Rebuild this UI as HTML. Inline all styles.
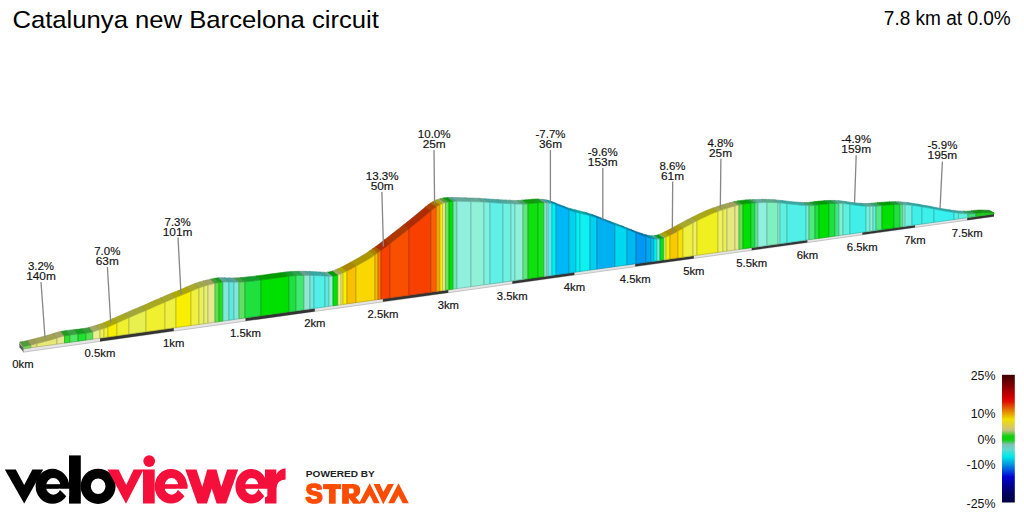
<!DOCTYPE html>
<html><head><meta charset="utf-8"><style>
html,body{margin:0;padding:0;background:#fff;}
body{width:1024px;height:512px;overflow:hidden;position:relative;font-family:"Liberation Sans",sans-serif;}
svg{position:absolute;left:0;top:0;}
.km{font-family:"Liberation Sans",sans-serif;font-size:10.3px;fill:#111;stroke:#111;stroke-width:0.15px;}
.ann{font-family:"Liberation Sans",sans-serif;font-size:11.2px;fill:#111;stroke:#111;stroke-width:0.15px;}
.lg{font-family:"Liberation Sans",sans-serif;font-size:12.4px;fill:#111;}
</style></head><body>
<svg width="1024" height="512" viewBox="0 0 1024 512">
<defs>
<linearGradient id="lgd" x1="0" y1="0" x2="0" y2="1">
<stop offset="0" stop-color="#3a0000"/>
<stop offset="0.1" stop-color="#900000"/>
<stop offset="0.177" stop-color="#d00000"/>
<stop offset="0.21" stop-color="#e01000"/>
<stop offset="0.26" stop-color="#e06000"/>
<stop offset="0.305" stop-color="#e8a000"/>
<stop offset="0.347" stop-color="#f0e000"/>
<stop offset="0.39" stop-color="#e0d040"/>
<stop offset="0.435" stop-color="#c8c080"/>
<stop offset="0.48" stop-color="#10d010"/>
<stop offset="0.51" stop-color="#10d010"/>
<stop offset="0.545" stop-color="#80c0b0"/>
<stop offset="0.585" stop-color="#60d8d0"/>
<stop offset="0.64" stop-color="#00e8e8"/>
<stop offset="0.695" stop-color="#00a0e0"/>
<stop offset="0.76" stop-color="#0040e0"/>
<stop offset="0.8" stop-color="#0000d0"/>
<stop offset="0.87" stop-color="#000090"/>
<stop offset="0.93" stop-color="#000060"/>
<stop offset="1.0" stop-color="#000040"/>
</linearGradient>
</defs>
<text x="12.4" y="27.6" font-family="Liberation Sans" font-size="24.8" fill="#000" textLength="366.5" lengthAdjust="spacingAndGlyphs">Catalunya new Barcelona circuit</text>
<text x="1010.8" y="25" text-anchor="end" font-family="Liberation Sans" font-size="19.4" fill="#000" textLength="127" lengthAdjust="spacingAndGlyphs">7.8 km at 0.0%</text>
<polygon points="23,348.8 994,214 994,216.4 23,352.2" fill="#e4e4e4"/>
<line x1="23" y1="352.2" x2="994" y2="216.4" stroke="#b8b8b8" stroke-width="0.8"/>
<polygon points="100,338.11 173.75,327.87 173.75,331.12 100,341.43" fill="#333"/>
<polygon points="245.5,317.91 314.8,308.29 314.8,311.39 245.5,321.08" fill="#333"/>
<polygon points="382.9,298.84 448.3,289.76 448.3,292.72 382.9,301.87" fill="#333"/>
<polygon points="512.3,280.87 574.4,272.25 574.4,275.08 512.3,283.77" fill="#333"/>
<polygon points="635.2,263.81 693.8,255.68 693.8,258.38 635.2,266.58" fill="#333"/>
<polygon points="751.7,247.64 807.4,239.9 807.4,242.5 751.7,250.29" fill="#333"/>
<polygon points="862.3,232.28 915,224.97 915,227.45 862.3,234.82" fill="#333"/>
<polygon points="967.2,217.72 994,214 994,216.4 967.2,220.15" fill="#333"/>
<polygon points="19.2,342.9 23.3,347.6 23.6,352.2 19.5,347.3" fill="#5a5a5a"/>
<polygon points="23,346.64 25,346.4 27,346 29,345.59 31,345.12 27.57,340.54 25.57,341 23.58,341.41 21.59,341.8 19.6,342.04" fill="#54973d" stroke="#4a8536" stroke-width="0.6"/>
<polygon points="31,345.12 33,344.63 35,344.12 37,343.59 33.54,339.02 31.55,339.54 29.56,340.05 27.57,340.54" fill="#9c9c59" stroke="#8a8a4f" stroke-width="0.6"/>
<polygon points="37,343.59 39,343.06 41,342.53 43,342 45,341.47 47,340.95 49,340.43 51,339.88 53,339.3 55,338.69 57,338.04 53.46,333.51 51.46,334.16 49.47,334.76 47.48,335.34 45.49,335.88 43.5,336.4 41.51,336.92 39.51,337.44 37.52,337.97 35.53,338.49 33.54,339.02" fill="#a2a254" stroke="#8f8f4a" stroke-width="0.6"/>
<polygon points="57,338.04 59,337.39 61,336.8 63,336.31 64.5,336.01 60.92,331.5 59.43,331.79 57.44,332.28 55.45,332.87 53.46,333.51" fill="#a2a264" stroke="#8f8f59" stroke-width="0.6"/>
<polygon points="64.5,336.01 65,335.91 67,335.55 69,335.22 70,335.07 66.4,330.57 65.4,330.72 63.41,331.04 61.42,331.4 60.92,331.5" fill="#219c21" stroke="#1d8a1d" stroke-width="0.6"/>
<polygon points="70,335.07 71,334.92 73,334.67 75,334.44 77,334.23 78,334.14 74.35,329.65 73.36,329.75 71.37,329.95 69.38,330.17 67.39,330.42 66.4,330.57" fill="#38a243" stroke="#318f3b" stroke-width="0.6"/>
<polygon points="78,334.14 79,334.04 81,333.83 83,333.58 85,333.29 86,333.15 82.3,328.68 81.31,328.82 79.32,329.1 77.33,329.35 75.35,329.55 74.35,329.65" fill="#169c21" stroke="#138a1d" stroke-width="0.6"/>
<polygon points="86,333.15 87,333.01 89,332.71 91,332.34 93,331.83 89.26,327.37 87.27,327.88 85.29,328.25 83.3,328.54 82.3,328.68" fill="#389c38" stroke="#318a31" stroke-width="0.6"/>
<polygon points="93,331.83 95,331.22 97,330.6 99,329.98 100,329.66 96.22,325.22 95.23,325.53 93.24,326.15 91.25,326.77 89.26,327.37" fill="#a2a864" stroke="#8f9459" stroke-width="0.6"/>
<polygon points="100,329.66 101,329.35 103,328.76 104,328.44 100.2,324 99.2,324.32 97.21,324.91 96.22,325.22" fill="#a8a838" stroke="#949431" stroke-width="0.6"/>
<polygon points="104,328.44 105,328.12 107,327.42 108,327.01 104.17,322.58 103.18,322.99 101.19,323.68 100.2,324" fill="#a8a82c" stroke="#949427" stroke-width="0.6"/>
<polygon points="108,327.01 109,326.6 111,325.74 113,324.83 115,323.91 117,322.99 113.12,318.58 111.13,319.49 109.14,320.41 107.16,321.31 105.17,322.17 104.17,322.58" fill="#ada800" stroke="#999400" stroke-width="0.6"/>
<polygon points="117,322.99 119,322.1 121,321.21 123,320.32 125,319.44 127,318.55 129,317.67 125.05,313.28 123.06,314.16 121.07,315.03 119.08,315.91 117.1,316.8 115.11,317.69 113.12,318.58" fill="#a8a821" stroke="#94941d" stroke-width="0.6"/>
<polygon points="129,317.67 131,316.8 133,315.91 135,315.03 137,314.18 139,313.34 141,312.52 143,311.71 145,310.9 146,310.48 141.95,306.12 140.95,306.54 138.96,307.35 136.98,308.14 134.99,308.96 133,309.8 131.01,310.65 129.02,311.52 127.04,312.41 125.05,313.28" fill="#a2a838" stroke="#8f9431" stroke-width="0.6"/>
<polygon points="146,310.48 147,310.06 149,309.18 151,308.29 153,307.36 155,306.44 157,305.55 159,304.7 161,303.85 163,303 165,302.13 160.83,297.8 158.84,298.66 156.86,299.51 154.87,300.36 152.88,301.2 150.89,302.1 148.9,303.01 146.92,303.93 144.93,304.82 142.94,305.7 141.95,306.12" fill="#a8a821" stroke="#94941d" stroke-width="0.6"/>
<polygon points="165,302.13 167,301.26 169,300.39 171,299.53 173,298.69 175,297.87 176,297.47 171.77,293.16 170.77,293.56 168.79,294.37 166.8,295.21 164.81,296.07 162.82,296.94 160.83,297.8" fill="#a8a82c" stroke="#949427" stroke-width="0.6"/>
<polygon points="176,297.47 177,297.07 179,296.28 181,295.48 183,294.66 185,293.81 187,292.96 189,292.09 191,291.23 186.68,286.95 184.69,287.8 182.7,288.66 180.71,289.52 178.73,290.36 176.74,291.18 174.75,291.98 172.76,292.77 171.77,293.16" fill="#ada800" stroke="#999400" stroke-width="0.6"/>
<polygon points="191,291.23 193,290.4 195,289.59 197,288.78 199,287.98 194.63,283.71 192.64,284.51 190.65,285.31 188.67,286.12 186.68,286.95" fill="#a8a82c" stroke="#949427" stroke-width="0.6"/>
<polygon points="199,287.98 201,287.23 203,286.55 204,286.26 199.6,282 198.61,282.29 196.62,282.96 194.63,283.71" fill="#a2a843" stroke="#8f943b" stroke-width="0.6"/>
<polygon points="204,286.26 205,285.96 207,285.39 208,285.12 203.58,280.87 202.58,281.14 200.59,281.7 199.6,282" fill="#a2a84e" stroke="#8f9445" stroke-width="0.6"/>
<polygon points="208,285.12 209,284.86 211,284.35 213,283.88 215,283.46 210.53,279.22 208.55,279.64 206.56,280.1 204.57,280.61 203.58,280.87" fill="#a2a264" stroke="#8f8f59" stroke-width="0.6"/>
<polygon points="215,283.46 217,283.02 219,282.61 214.51,278.38 212.52,278.79 210.53,279.22" fill="#439c38" stroke="#3b8a31" stroke-width="0.6"/>
<polygon points="219,282.61 221,282.27 223,282.07 218.49,277.85 216.5,278.04 214.51,278.38" fill="#169c16" stroke="#138a13" stroke-width="0.6"/>
<polygon points="223,282.07 225,281.99 227,281.99 229,282.03 224.45,277.82 222.46,277.77 220.47,277.77 218.49,277.85" fill="#59a297" stroke="#4f8f85" stroke-width="0.6"/>
<polygon points="229,282.03 231,282.09 233,282.12 234,282.13 229.42,277.92 228.43,277.91 226.44,277.88 224.45,277.82" fill="#43a29c" stroke="#3b8f8a" stroke-width="0.6"/>
<polygon points="234,282.13 235,282.13 237,282.14 239,282.14 234.39,277.94 232.4,277.94 230.41,277.93 229.42,277.92" fill="#59a297" stroke="#4f8f85" stroke-width="0.6"/>
<polygon points="239,282.14 241,282.1 243,282 245,281.85 240.36,277.67 238.37,277.81 236.38,277.9 234.39,277.94" fill="#439c43" stroke="#3b8a3b" stroke-width="0.6"/>
<polygon points="245,281.85 247,281.68 249,281.48 251,281.26 253,281.04 255,280.81 257,280.58 259,280.34 261,280.1 256.26,275.94 254.27,276.18 252.28,276.41 250.3,276.64 248.31,276.87 246.32,277.09 244.33,277.3 242.34,277.49 240.36,277.67" fill="#169c2c" stroke="#138a27" stroke-width="0.6"/>
<polygon points="261,280.1 263,279.85 265,279.58 267,279.31 269,279.04 271,278.77 273,278.5 275,278.23 277,277.96 279,277.7 281,277.43 283,277.16 285,276.89 287,276.61 289,276.32 284.09,272.22 282.1,272.5 280.12,272.78 278.13,273.04 276.14,273.31 274.15,273.57 272.16,273.83 270.18,274.09 268.19,274.36 266.2,274.63 264.21,274.9 262.22,275.17 260.24,275.43 258.25,275.69 256.26,275.94" fill="#009c00" stroke="#008a00" stroke-width="0.6"/>
<polygon points="289,276.32 291,276.07 293,275.87 295,275.73 296,275.67 291.05,271.58 290.06,271.63 288.07,271.77 286.08,271.96 284.09,272.22" fill="#169c2c" stroke="#138a27" stroke-width="0.6"/>
<polygon points="296,275.67 297,275.61 299,275.52 301,275.45 303,275.41 304,275.41 299,271.33 298.01,271.33 296.02,271.37 294.03,271.43 292.04,271.52 291.05,271.58" fill="#2ca24e" stroke="#278f45" stroke-width="0.6"/>
<polygon points="304,275.41 305,275.4 307,275.4 309,275.41 310,275.43 304.97,271.36 303.97,271.34 301.99,271.33 300,271.32 299,271.33" fill="#64a291" stroke="#598f80" stroke-width="0.6"/>
<polygon points="310,275.43 311,275.44 313,275.49 314,275.53 308.94,271.46 307.95,271.43 305.96,271.37 304.97,271.36" fill="#4ea29c" stroke="#458f8a" stroke-width="0.6"/>
<polygon points="314,275.53 315,275.57 317,275.65 319,275.74 321,275.85 323,275.95 325,276.05 319.88,272 317.89,271.91 315.9,271.8 313.91,271.69 311.93,271.59 309.94,271.5 308.94,271.46" fill="#38a8a2" stroke="#31948f" stroke-width="0.6"/>
<polygon points="325,276.05 327,276.18 329,276.31 323.85,272.27 321.87,272.14 319.88,272" fill="#43a29c" stroke="#3b8f8a" stroke-width="0.6"/>
<polygon points="329,276.31 331,276.33 333,276.19 327.83,272.17 325.84,272.3 323.85,272.27" fill="#64a89c" stroke="#59948a" stroke-width="0.6"/>
<polygon points="333,276.19 335,275.84 337,275.32 338,274.96 332.8,270.94 331.81,271.3 329.82,271.81 327.83,272.17" fill="#009c00" stroke="#008a00" stroke-width="0.6"/>
<polygon points="338,274.96 339,274.6 341,273.79 335.78,269.77 333.79,270.58 332.8,270.94" fill="#a8a864" stroke="#949459" stroke-width="0.6"/>
<polygon points="341,273.79 343,272.91 337.77,268.9 335.78,269.77" fill="#a8a843" stroke="#94943b" stroke-width="0.6"/>
<polygon points="343,272.91 345,271.98 347,271 341.75,267 339.76,267.97 337.77,268.9" fill="#ada800" stroke="#999400" stroke-width="0.6"/>
<polygon points="347,271 349,269.98 351,268.93 353,267.84 355,266.73 356,266.18 350.69,262.19 349.7,262.74 347.71,263.84 345.72,264.93 343.73,265.98 341.75,267" fill="#ad8600" stroke="#997700" stroke-width="0.6"/>
<polygon points="356,266.18 357,265.63 359,264.54 361,263.44 363,262.32 365,261.16 367,259.99 369,258.81 371,257.59 373,256.24 375,254.83 369.58,250.87 367.59,252.28 365.6,253.63 363.61,254.85 361.63,256.03 359.64,257.19 357.65,258.34 355.66,259.46 353.67,260.56 351.69,261.64 350.69,262.19" fill="#ad9700" stroke="#998500" stroke-width="0.6"/>
<polygon points="375,254.83 377,253.41 378,252.71 372.56,248.76 371.57,249.46 369.58,250.87" fill="#ad8000" stroke="#997200" stroke-width="0.6"/>
<polygon points="378,252.71 379,252.02 381,250.61 375.54,246.67 373.56,248.07 372.56,248.76" fill="#ad5900" stroke="#994f00" stroke-width="0.6"/>
<polygon points="381,250.61 383,249.16 385,247.65 387,246.11 389,244.55 390,243.76 384.49,239.84 383.5,240.62 381.51,242.18 379.52,243.71 377.53,245.22 375.54,246.67" fill="#ad2c00" stroke="#992700" stroke-width="0.6"/>
<polygon points="390,243.76 391,242.98 393,241.41 395,239.84 397,238.28 399,236.73 401,235.17 403,233.61 405,232.04 407,230.47 409,228.89 403.41,225 401.4,226.57 399.4,228.14 397.41,229.71 395.42,231.26 393.44,232.82 391.45,234.37 389.46,235.92 387.47,237.48 385.48,239.05 384.49,239.84" fill="#ad3800" stroke="#993100" stroke-width="0.6"/>
<polygon points="409,228.89 411,227.3 413,225.7 415,224.08 417,222.45 419,220.81 421,219.15 423,217.49 425,215.85 427,214.19 429,212.52 431,210.82 425.43,206.97 423.43,208.67 421.43,210.33 419.43,211.99 417.42,213.63 415.42,215.28 413.42,216.94 411.42,218.58 409.41,220.2 407.41,221.82 405.41,223.41 403.41,225" fill="#ad2c00" stroke="#992700" stroke-width="0.6"/>
<polygon points="431,210.82 433,209.17 435,207.66 436.4,206.72 430.84,202.88 429.44,203.82 427.44,205.32 425.43,206.97" fill="#ad4300" stroke="#993b00" stroke-width="0.6"/>
<polygon points="436.4,206.72 437,206.31 439,205.15 440,204.66 434.45,200.83 433.44,201.32 431.44,202.47 430.84,202.88" fill="#ad7000" stroke="#996300" stroke-width="0.6"/>
<polygon points="440,204.66 441,204.16 442.7,203.5 437.15,199.67 435.45,200.33 434.45,200.83" fill="#ada800" stroke="#999400" stroke-width="0.6"/>
<polygon points="442.7,203.5 443,203.38 445,202.73 445.4,202.63 439.85,198.8 439.45,198.91 437.45,199.56 437.15,199.67" fill="#a8a859" stroke="#94944f" stroke-width="0.6"/>
<polygon points="445.4,202.63 447,202.21 449,201.8 443.46,197.98 441.45,198.39 439.85,198.8" fill="#4e9c43" stroke="#458a3b" stroke-width="0.6"/>
<polygon points="449,201.8 451,201.55 453,201.39 453.2,201.38 447.66,197.58 447.46,197.58 445.46,197.74 443.46,197.98" fill="#009c00" stroke="#008a00" stroke-width="0.6"/>
<polygon points="453.2,201.38 455,201.32 457,201.29 451.47,197.49 449.46,197.51 447.66,197.58" fill="#4ea27b" stroke="#458f6d" stroke-width="0.6"/>
<polygon points="457,201.29 459,201.3 461,201.33 463,201.38 465,201.43 467,201.49 469,201.55 471,201.62 465.49,197.85 463.48,197.78 461.48,197.71 459.48,197.64 457.47,197.59 455.47,197.54 453.47,197.51 451.47,197.49" fill="#64a89c" stroke="#59948a" stroke-width="0.6"/>
<polygon points="471,201.62 473,201.69 475,201.75 477,201.81 479,201.86 481,201.93 483,202.02 484,202.07 478.5,198.33 477.5,198.27 475.5,198.18 473.5,198.11 471.49,198.05 469.49,197.99 467.49,197.92 465.49,197.85" fill="#64a897" stroke="#599485" stroke-width="0.6"/>
<polygon points="484,202.07 485,202.13 487,202.25 489,202.39 490,202.46 484.51,198.72 483.51,198.65 481.51,198.51 479.5,198.38 478.5,198.33" fill="#59a89c" stroke="#4f948a" stroke-width="0.6"/>
<polygon points="490,202.46 491,202.52 493,202.66 495,202.8 497,202.94 499,203.08 501,203.21 503,203.33 497.53,199.62 495.52,199.49 493.52,199.36 491.52,199.21 489.52,199.07 487.51,198.93 485.51,198.79 484.51,198.72" fill="#43a8a2" stroke="#3b948f" stroke-width="0.6"/>
<polygon points="503,203.33 505,203.44 507,203.56 509,203.66 511,203.77 505.54,200.07 503.53,199.96 501.53,199.85 499.53,199.74 497.53,199.62" fill="#4ea89c" stroke="#45948a" stroke-width="0.6"/>
<polygon points="511,203.77 513,203.86 515,203.94 509.54,200.25 507.54,200.17 505.54,200.07" fill="#59a89c" stroke="#4f948a" stroke-width="0.6"/>
<polygon points="515,203.94 517,204.03 519,204.12 521,204.18 523,204.15 517.55,200.48 515.55,200.5 513.55,200.44 511.54,200.35 509.54,200.25" fill="#64a897" stroke="#599485" stroke-width="0.6"/>
<polygon points="523,204.15 525,204.05 527,203.89 528,203.8 522.56,200.14 521.56,200.23 519.55,200.38 517.55,200.48" fill="#43a259" stroke="#3b8f4f" stroke-width="0.6"/>
<polygon points="528,203.8 529,203.71 531,203.51 533,203.32 535,203.17 537,202.99 538,202.91 532.57,199.27 531.57,199.35 529.57,199.52 527.57,199.67 525.56,199.85 523.56,200.05 522.56,200.14" fill="#0b9c0b" stroke="#098a09" stroke-width="0.6"/>
<polygon points="538,202.91 539,202.83 541,202.7 543,202.7 544,202.75 538.58,199.12 537.58,199.07 535.58,199.07 533.57,199.18 532.57,199.27" fill="#109f10" stroke="#0e8d0e" stroke-width="0.6"/>
<polygon points="544,202.75 545,202.81 546.5,202.92 541.08,199.3 539.58,199.18 538.58,199.12" fill="#59a286" stroke="#4f8f77" stroke-width="0.6"/>
<polygon points="546.5,202.92 547,202.96 548,203.06 542.58,199.44 541.58,199.33 541.08,199.3" fill="#70a8a2" stroke="#63948f" stroke-width="0.6"/>
<polygon points="548,203.06 549,203.16 551,203.45 552,203.67 546.59,200.05 545.59,199.83 543.59,199.54 542.58,199.44" fill="#43a2a2" stroke="#3b8f8f" stroke-width="0.6"/>
<polygon points="552,203.67 553,203.89 555,204.48 556,204.82 550.59,201.21 549.59,200.87 547.59,200.28 546.59,200.05" fill="#00a8a8" stroke="#009494" stroke-width="0.6"/>
<polygon points="556,204.82 557,205.15 559,205.9 561,206.69 563,207.48 565,208.27 567,209.08 569,209.9 563.61,206.32 561.61,205.5 559.61,204.68 557.6,203.89 555.6,203.09 553.6,202.3 551.6,201.55 550.59,201.21" fill="#0080ad" stroke="#007299" stroke-width="0.6"/>
<polygon points="569,209.9 571,210.68 573,211.36 575,211.96 576,212.24 570.62,208.67 569.62,208.39 567.62,207.79 565.61,207.1 563.61,206.32" fill="#0091a8" stroke="#008094" stroke-width="0.6"/>
<polygon points="576,212.24 577,212.51 579,213.01 580,213.25 574.63,209.69 573.62,209.45 571.62,208.94 570.62,208.67" fill="#00a8ad" stroke="#009499" stroke-width="0.6"/>
<polygon points="580,213.25 581,213.5 583,213.99 585,214.5 587,215.01 589,215.51 590,215.78 584.64,212.23 583.64,211.97 581.63,211.46 579.63,210.95 577.63,210.44 575.63,209.94 574.63,209.69" fill="#0ba8a8" stroke="#099494" stroke-width="0.6"/>
<polygon points="590,215.78 591,216.04 593,216.62 595,217.26 597,217.92 591.65,214.39 589.65,213.73 587.64,213.09 585.64,212.5 584.64,212.23" fill="#0091a8" stroke="#008094" stroke-width="0.6"/>
<polygon points="597,217.92 599,218.6 601,219.32 603,220.07 605,220.85 607,221.65 609,222.48 611,223.29 613,224.08 615,224.84 609.67,221.35 607.67,220.59 605.67,219.79 603.66,218.97 601.66,218.14 599.66,217.33 597.66,216.55 595.65,215.8 593.65,215.08 591.65,214.39" fill="#007ba8" stroke="#006d94" stroke-width="0.6"/>
<polygon points="615,224.84 617,225.58 619,226.3 621,227.03 623,227.78 625,228.56 627,229.34 621.69,225.87 619.68,225.08 617.68,224.31 615.68,223.55 613.68,222.82 611.67,222.09 609.67,221.35" fill="#0097a8" stroke="#008594" stroke-width="0.6"/>
<polygon points="627,229.34 629,230.14 631,230.94 633,231.73 635,232.52 636,232.91 630.7,229.46 629.7,229.06 627.69,228.27 625.69,227.48 623.69,226.67 621.69,225.87" fill="#0080a8" stroke="#007294" stroke-width="0.6"/>
<polygon points="636,232.91 637,233.3 639,234.09 641,234.86 643,235.58 645,236.27 646,236.61 640.71,233.18 639.71,232.83 637.71,232.15 635.7,231.42 633.7,230.64 631.7,229.85 630.7,229.46" fill="#006aa8" stroke="#005e94" stroke-width="0.6"/>
<polygon points="646,236.61 647,236.96 649,237.61 651,238.19 645.72,234.77 643.71,234.18 641.71,233.53 640.71,233.18" fill="#0075a8" stroke="#006894" stroke-width="0.6"/>
<polygon points="651,238.19 653,238.71 654,238.88 648.72,235.46 647.72,235.29 645.72,234.77" fill="#0086a8" stroke="#007794" stroke-width="0.6"/>
<polygon points="654,238.88 655,239.04 657,239.23 651.73,235.82 649.72,235.63 648.72,235.46" fill="#00a8a8" stroke="#009494" stroke-width="0.6"/>
<polygon points="657,239.23 659,239.12 660,238.98 654.73,235.57 653.73,235.71 651.73,235.82" fill="#4ea89c" stroke="#45948a" stroke-width="0.6"/>
<polygon points="660,238.98 661,238.83 663,238.29 664,237.92 658.73,234.52 657.73,234.89 655.73,235.43 654.73,235.57" fill="#009c16" stroke="#008a13" stroke-width="0.6"/>
<polygon points="664,237.92 665,237.55 666,237.12 660.74,233.73 659.74,234.16 658.73,234.52" fill="#a2a859" stroke="#8f944f" stroke-width="0.6"/>
<polygon points="666,237.12 667,236.69 669,235.74 670,235.23 664.74,231.84 663.74,232.35 661.74,233.3 660.74,233.73" fill="#a8a800" stroke="#949400" stroke-width="0.6"/>
<polygon points="670,235.23 671,234.73 673,233.68 675,232.63 677,231.55 678,231.01 672.75,227.64 671.75,228.18 669.75,229.25 667.75,230.3 665.74,231.34 664.74,231.84" fill="#ad8c00" stroke="#997c00" stroke-width="0.6"/>
<polygon points="678,231.01 679,230.47 681,229.38 683,228.29 677.76,224.93 675.76,226.01 673.75,227.1 672.75,227.64" fill="#ad9c00" stroke="#998a00" stroke-width="0.6"/>
<polygon points="683,228.29 685,227.21 687,226.12 689,225.03 691,223.95 693,222.9 687.77,219.56 685.77,220.61 683.77,221.68 681.76,222.76 679.76,223.85 677.76,224.93" fill="#a8a82c" stroke="#949427" stroke-width="0.6"/>
<polygon points="693,222.9 695,221.87 697,220.85 691.78,217.52 689.77,218.53 687.77,219.56" fill="#a8a843" stroke="#94943b" stroke-width="0.6"/>
<polygon points="697,220.85 699,219.84 701,218.85 703,217.87 705,216.91 707,215.94 709,214.99 711,214.07 713,213.23 715,212.45 717,211.72 718,211.37 712.8,208.07 711.8,208.42 709.8,209.15 707.8,209.92 705.79,210.76 703.79,211.67 701.79,212.63 699.79,213.59 697.78,214.54 695.78,215.52 693.78,216.51 691.78,217.52" fill="#a8a816" stroke="#949413" stroke-width="0.6"/>
<polygon points="718,211.37 719,211.01 721,210.33 723,209.67 717.81,206.39 715.81,207.05 713.81,207.72 712.8,208.07" fill="#a8a843" stroke="#94943b" stroke-width="0.6"/>
<polygon points="723,209.67 725,209.01 727,208.36 721.82,205.09 719.81,205.74 717.81,206.39" fill="#a2a843" stroke="#8f943b" stroke-width="0.6"/>
<polygon points="727,208.36 729,207.72 731,207.1 733,206.53 735,206 729.83,202.75 727.83,203.27 725.82,203.84 723.82,204.46 721.82,205.09" fill="#a2a259" stroke="#8f8f4f" stroke-width="0.6"/>
<polygon points="735,206 737,205.47 739,204.97 733.83,201.73 731.83,202.23 729.83,202.75" fill="#a2a264" stroke="#8f8f59" stroke-width="0.6"/>
<polygon points="739,204.97 741,204.52 743,204.15 737.84,200.92 735.84,201.28 733.83,201.73" fill="#439c38" stroke="#3b8a31" stroke-width="0.6"/>
<polygon points="743,204.15 745,203.86 747,203.61 749,203.4 751,203.22 745.85,200.01 743.85,200.19 741.85,200.39 739.84,200.64 737.84,200.92" fill="#009c00" stroke="#008a00" stroke-width="0.6"/>
<polygon points="751,203.22 753,203.07 755,202.95 749.86,199.75 747.85,199.87 745.85,200.01" fill="#169c2c" stroke="#138a27" stroke-width="0.6"/>
<polygon points="755,202.95 757,202.84 758,202.79 752.86,199.6 751.86,199.65 749.86,199.75" fill="#43a264" stroke="#3b8f59" stroke-width="0.6"/>
<polygon points="758,202.79 759,202.75 761,202.67 763,202.61 765,202.57 767,202.54 761.87,199.37 759.87,199.4 757.87,199.43 755.87,199.48 753.86,199.56 752.86,199.6" fill="#64a89c" stroke="#59948a" stroke-width="0.6"/>
<polygon points="767,202.54 769,202.51 771,202.51 773,202.56 775,202.66 777,202.78 778,202.85 772.89,199.71 771.89,199.63 769.89,199.51 767.88,199.41 765.88,199.35 763.88,199.35 761.87,199.37" fill="#59a886" stroke="#4f9477" stroke-width="0.6"/>
<polygon points="778,202.85 779,202.92 780,203 774.89,199.86 773.89,199.78 772.89,199.71" fill="#64a89c" stroke="#59948a" stroke-width="0.6"/>
<polygon points="780,203 781,203.08 783,203.26 785,203.47 787,203.68 781.9,200.57 779.9,200.34 777.9,200.13 775.89,199.95 774.89,199.86" fill="#43a89c" stroke="#3b948a" stroke-width="0.6"/>
<polygon points="787,203.68 789,203.91 791,204.14 793,204.36 795,204.57 797,204.78 799,204.98 801,205.17 803,205.31 805,205.41 806,205.46 800.93,202.39 799.93,202.34 797.93,202.23 795.92,202.08 793.92,201.89 791.92,201.68 789.91,201.47 787.91,201.25 785.91,201.03 783.91,200.8 781.9,200.57" fill="#38a8a2" stroke="#31948f" stroke-width="0.6"/>
<polygon points="806,205.46 807,205.51 809,205.59 803.93,202.52 801.93,202.44 800.93,202.39" fill="#4ea897" stroke="#459485" stroke-width="0.6"/>
<polygon points="809,205.59 811,205.61 813,205.52 815,205.35 809.94,202.3 807.94,202.47 805.94,202.55 803.93,202.52" fill="#38a259" stroke="#318f4f" stroke-width="0.6"/>
<polygon points="815,205.35 817,205.11 819,204.83 813.95,201.79 811.95,202.07 809.94,202.3" fill="#169c2c" stroke="#138a27" stroke-width="0.6"/>
<polygon points="819,204.83 821,204.55 823,204.31 825,204.11 827,203.91 829,203.74 823.96,200.73 821.96,200.9 819.96,201.08 817.95,201.28 815.95,201.52 813.95,201.79" fill="#009c00" stroke="#008a00" stroke-width="0.6"/>
<polygon points="829,203.74 831,203.6 833,203.51 835,203.47 829.97,200.47 827.97,200.5 825.97,200.59 823.96,200.73" fill="#169c2c" stroke="#138a27" stroke-width="0.6"/>
<polygon points="835,203.47 837,203.44 839,203.44 833.98,200.45 831.97,200.45 829.97,200.47" fill="#2ca259" stroke="#278f4f" stroke-width="0.6"/>
<polygon points="839,203.44 841,203.48 843,203.61 837.98,200.63 835.98,200.5 833.98,200.45" fill="#59a891" stroke="#4f9480" stroke-width="0.6"/>
<polygon points="843,203.61 845,203.8 847,204.04 849,204.31 850,204.45 844.99,201.49 843.99,201.34 841.99,201.07 839.99,200.83 837.98,200.63" fill="#43a89c" stroke="#3b948a" stroke-width="0.6"/>
<polygon points="850,204.45 851,204.59 853,204.86 855,205.13 857,205.4 859,205.66 861,205.9 863,206.08 865,206.19 866,206.24 861.02,203.32 860.02,203.27 858.01,203.15 856.01,202.97 854.01,202.73 852,202.45 850,202.18 848,201.91 845.99,201.63 844.99,201.49" fill="#2ca8a2" stroke="#27948f" stroke-width="0.6"/>
<polygon points="866,206.24 867,206.29 869,206.36 870,206.37 865.02,203.46 864.02,203.45 862.02,203.37 861.02,203.32" fill="#4ea89c" stroke="#45948a" stroke-width="0.6"/>
<polygon points="870,206.37 871,206.39 873,206.34 868.03,203.43 866.02,203.48 865.02,203.46" fill="#64a897" stroke="#599485" stroke-width="0.6"/>
<polygon points="873,206.34 875,206.22 876,206.14 871.03,203.25 870.03,203.32 868.03,203.43" fill="#43a89c" stroke="#3b948a" stroke-width="0.6"/>
<polygon points="876,206.14 877,206.06 879,205.88 881,205.69 882,205.59 877.04,202.71 876.04,202.8 874.04,202.99 872.03,203.17 871.03,203.25" fill="#38a259" stroke="#318f4f" stroke-width="0.6"/>
<polygon points="882,205.59 883,205.5 885,205.34 887,205.17 889,205.01 891,204.87 893,204.77 894,204.74 889.06,201.89 888.06,201.92 886.05,202.02 884.05,202.15 882.05,202.3 880.04,202.46 878.04,202.63 877.04,202.71" fill="#009c00" stroke="#008a00" stroke-width="0.6"/>
<polygon points="894,204.74 895,204.71 897,204.65 899,204.61 900,204.61 895.07,201.77 894.06,201.77 892.06,201.81 890.06,201.86 889.06,201.89" fill="#169c2c" stroke="#138a27" stroke-width="0.6"/>
<polygon points="900,204.61 901,204.6 903,204.66 898.07,201.83 896.07,201.77 895.07,201.77" fill="#38a259" stroke="#318f4f" stroke-width="0.6"/>
<polygon points="903,204.66 905,204.76 900.07,201.93 898.07,201.83" fill="#64a89c" stroke="#59948a" stroke-width="0.6"/>
<polygon points="905,204.76 907,204.88 909,205.03 911,205.21 912,205.33 907.08,202.52 906.08,202.4 904.08,202.21 902.08,202.06 900.07,201.93" fill="#4ea89c" stroke="#45948a" stroke-width="0.6"/>
<polygon points="912,205.33 913,205.45 915,205.73 917,206.04 919,206.37 921,206.71 922,206.88 917.1,204.1 916.1,203.93 914.09,203.59 912.09,203.25 910.09,202.93 908.08,202.64 907.08,202.52" fill="#2ca8a2" stroke="#27948f" stroke-width="0.6"/>
<polygon points="922,206.88 923,207.05 925,207.39 927,207.71 929,208.04 931,208.38 933,208.74 934,208.93 929.11,206.18 928.11,205.99 926.11,205.62 924.11,205.28 922.1,204.95 920.1,204.61 918.1,204.27 917.1,204.1" fill="#2ba8a3" stroke="#269491" stroke-width="0.6"/>
<polygon points="934,208.93 935,209.12 937,209.52 939,209.93 941,210.33 943,210.71 945,211.06 947,211.41 949,211.75 951,212.07 953,212.37 954,212.51 949.14,209.81 948.14,209.67 946.14,209.36 944.14,209.03 942.13,208.69 940.13,208.34 938.13,207.98 936.12,207.6 934.12,207.19 932.12,206.78 930.12,206.38 929.11,206.18" fill="#27a8a8" stroke="#229494" stroke-width="0.6"/>
<polygon points="954,212.51 955,212.66 957,212.94 958.5,213.15 953.65,210.46 952.15,210.25 950.14,209.96 949.14,209.81" fill="#38a8a2" stroke="#31948f" stroke-width="0.6"/>
<polygon points="958.5,213.15 959,213.21 961,213.45 963,213.62 965,213.73 967,213.81 968,213.84 963.16,211.18 962.16,211.15 960.16,211.06 958.16,210.95 956.15,210.77 954.15,210.53 953.65,210.46" fill="#43a89c" stroke="#3b948a" stroke-width="0.6"/>
<polygon points="968,213.84 969,213.87 971,213.87 973,213.77 975,213.61 976,213.49 971.17,210.85 970.17,210.96 968.17,211.12 966.17,211.21 964.16,211.21 963.16,211.18" fill="#2c9c59" stroke="#278a4f" stroke-width="0.6"/>
<polygon points="976,213.49 977,213.38 979,213.11 981,212.89 983,212.75 985,212.7 987,212.7 989,212.74 991,212.81 993,212.87 994,212.87 989.2,210.27 988.2,210.27 986.2,210.2 984.19,210.13 982.19,210.08 980.19,210.08 978.18,210.12 976.18,210.25 974.18,210.48 972.18,210.74 971.17,210.85" fill="#169116" stroke="#138013" stroke-width="0.6"/>
<polygon points="23,346.64 25,346.4 27,346 29,345.59 31,345.12 31,347.69 23,348.8" fill="#78d858" stroke="#589f41" stroke-width="0.7"/>
<polygon points="31,345.12 33,344.63 35,344.12 37,343.59 37,346.86 31,347.69" fill="#e0e080" stroke="#a5a55e" stroke-width="0.7"/>
<polygon points="37,343.59 39,343.06 41,342.53 43,342 45,341.47 47,340.95 49,340.43 51,339.88 53,339.3 55,338.69 57,338.04 57,344.08 37,346.86" fill="#e8e878" stroke="#abab58" stroke-width="0.7"/>
<polygon points="57,338.04 59,337.39 61,336.8 63,336.31 64.5,336.01 64.5,343.04 57,344.08" fill="#e8e890" stroke="#abab6a" stroke-width="0.7"/>
<polygon points="64.5,336.01 65,335.91 67,335.55 69,335.22 70,335.07 70,342.28 64.5,343.04" fill="#30e030" stroke="#23a523" stroke-width="0.7"/>
<polygon points="70,335.07 71,334.92 73,334.67 75,334.44 77,334.23 78,334.14 78,341.16 70,342.28" fill="#50e860" stroke="#3bab47" stroke-width="0.7"/>
<polygon points="78,334.14 79,334.04 81,333.83 83,333.58 85,333.29 86,333.15 86,340.05 78,341.16" fill="#20e030" stroke="#17a523" stroke-width="0.7"/>
<polygon points="86,333.15 87,333.01 89,332.71 91,332.34 93,331.83 93,339.08 86,340.05" fill="#50e050" stroke="#3ba53b" stroke-width="0.7"/>
<polygon points="93,331.83 95,331.22 97,330.6 99,329.98 100,329.66 100,338.11 93,339.08" fill="#e8f090" stroke="#abb16a" stroke-width="0.7"/>
<polygon points="100,329.66 101,329.35 103,328.76 104,328.44 104,337.56 100,338.11" fill="#f0f050" stroke="#b1b13b" stroke-width="0.7"/>
<polygon points="104,328.44 105,328.12 107,327.42 108,327.01 108,337 104,337.56" fill="#f0f040" stroke="#b1b12f" stroke-width="0.7"/>
<polygon points="108,327.01 109,326.6 111,325.74 113,324.83 115,323.91 117,322.99 117,335.75 108,337" fill="#f8f000" stroke="#b7b100" stroke-width="0.7"/>
<polygon points="117,322.99 119,322.1 121,321.21 123,320.32 125,319.44 127,318.55 129,317.67 129,334.08 117,335.75" fill="#f0f030" stroke="#b1b123" stroke-width="0.7"/>
<polygon points="129,317.67 131,316.8 133,315.91 135,315.03 137,314.18 139,313.34 141,312.52 143,311.71 145,310.9 146,310.48 146,331.72 129,334.08" fill="#e8f050" stroke="#abb13b" stroke-width="0.7"/>
<polygon points="146,310.48 147,310.06 149,309.18 151,308.29 153,307.36 155,306.44 157,305.55 159,304.7 161,303.85 163,303 165,302.13 165,329.09 146,331.72" fill="#f0f030" stroke="#b1b123" stroke-width="0.7"/>
<polygon points="165,302.13 167,301.26 169,300.39 171,299.53 173,298.69 175,297.87 176,297.47 176,327.56 165,329.09" fill="#f0f040" stroke="#b1b12f" stroke-width="0.7"/>
<polygon points="176,297.47 177,297.07 179,296.28 181,295.48 183,294.66 185,293.81 187,292.96 189,292.09 191,291.23 191,325.48 176,327.56" fill="#f8f000" stroke="#b7b100" stroke-width="0.7"/>
<polygon points="191,291.23 193,290.4 195,289.59 197,288.78 199,287.98 199,324.37 191,325.48" fill="#f0f040" stroke="#b1b12f" stroke-width="0.7"/>
<polygon points="199,287.98 201,287.23 203,286.55 204,286.26 204,323.67 199,324.37" fill="#e8f060" stroke="#abb147" stroke-width="0.7"/>
<polygon points="204,286.26 205,285.96 207,285.39 208,285.12 208,323.12 204,323.67" fill="#e8f070" stroke="#abb152" stroke-width="0.7"/>
<polygon points="208,285.12 209,284.86 211,284.35 213,283.88 215,283.46 215,322.15 208,323.12" fill="#e8e890" stroke="#abab6a" stroke-width="0.7"/>
<polygon points="215,283.46 217,283.02 219,282.61 219,321.59 215,322.15" fill="#60e050" stroke="#47a53b" stroke-width="0.7"/>
<polygon points="219,282.61 221,282.27 223,282.07 223,321.03 219,321.59" fill="#20e020" stroke="#17a517" stroke-width="0.7"/>
<polygon points="223,282.07 225,281.99 227,281.99 229,282.03 229,320.2 223,321.03" fill="#80e8d8" stroke="#5eab9f" stroke-width="0.7"/>
<polygon points="229,282.03 231,282.09 233,282.12 234,282.13 234,319.51 229,320.2" fill="#60e8e0" stroke="#47aba5" stroke-width="0.7"/>
<polygon points="234,282.13 235,282.13 237,282.14 239,282.14 239,318.81 234,319.51" fill="#80e8d8" stroke="#5eab9f" stroke-width="0.7"/>
<polygon points="239,282.14 241,282.1 243,282 245,281.85 245,317.98 239,318.81" fill="#60e060" stroke="#47a547" stroke-width="0.7"/>
<polygon points="245,281.85 247,281.68 249,281.48 251,281.26 253,281.04 255,280.81 257,280.58 259,280.34 261,280.1 261,315.76 245,317.98" fill="#20e040" stroke="#17a52f" stroke-width="0.7"/>
<polygon points="261,280.1 263,279.85 265,279.58 267,279.31 269,279.04 271,278.77 273,278.5 275,278.23 277,277.96 279,277.7 281,277.43 283,277.16 285,276.89 287,276.61 289,276.32 289,311.87 261,315.76" fill="#00e000" stroke="#00a500" stroke-width="0.7"/>
<polygon points="289,276.32 291,276.07 293,275.87 295,275.73 296,275.67 296,310.9 289,311.87" fill="#20e040" stroke="#17a52f" stroke-width="0.7"/>
<polygon points="296,275.67 297,275.61 299,275.52 301,275.45 303,275.41 304,275.41 304,309.79 296,310.9" fill="#40e870" stroke="#2fab52" stroke-width="0.7"/>
<polygon points="304,275.41 305,275.4 307,275.4 309,275.41 310,275.43 310,308.96 304,309.79" fill="#90e8d0" stroke="#6aab99" stroke-width="0.7"/>
<polygon points="310,275.43 311,275.44 313,275.49 314,275.53 314,308.4 310,308.96" fill="#70e8e0" stroke="#52aba5" stroke-width="0.7"/>
<polygon points="314,275.53 315,275.57 317,275.65 319,275.74 321,275.85 323,275.95 325,276.05 325,306.87 314,308.4" fill="#50f0e8" stroke="#3bb1ab" stroke-width="0.7"/>
<polygon points="325,276.05 327,276.18 329,276.31 329,306.32 325,306.87" fill="#60e8e0" stroke="#47aba5" stroke-width="0.7"/>
<polygon points="329,276.31 331,276.33 333,276.19 333,305.76 329,306.32" fill="#90f0e0" stroke="#6ab1a5" stroke-width="0.7"/>
<polygon points="333,276.19 335,275.84 337,275.32 338,274.96 338,305.07 333,305.76" fill="#00e000" stroke="#00a500" stroke-width="0.7"/>
<polygon points="338,274.96 339,274.6 341,273.79 341,304.65 338,305.07" fill="#f0f090" stroke="#b1b16a" stroke-width="0.7"/>
<polygon points="341,273.79 343,272.91 343,304.38 341,304.65" fill="#f0f060" stroke="#b1b147" stroke-width="0.7"/>
<polygon points="343,272.91 345,271.98 347,271 347,303.82 343,304.38" fill="#f8f000" stroke="#b7b100" stroke-width="0.7"/>
<polygon points="347,271 349,269.98 351,268.93 353,267.84 355,266.73 356,266.18 356,302.57 347,303.82" fill="#f8c000" stroke="#b78e00" stroke-width="0.7"/>
<polygon points="356,266.18 357,265.63 359,264.54 361,263.44 363,262.32 365,261.16 367,259.99 369,258.81 371,257.59 373,256.24 375,254.83 375,299.93 356,302.57" fill="#f8d800" stroke="#b79f00" stroke-width="0.7"/>
<polygon points="375,254.83 377,253.41 378,252.71 378,299.52 375,299.93" fill="#f8b800" stroke="#b78800" stroke-width="0.7"/>
<polygon points="378,252.71 379,252.02 381,250.61 381,299.1 378,299.52" fill="#f88000" stroke="#b75e00" stroke-width="0.7"/>
<polygon points="381,250.61 383,249.16 385,247.65 387,246.11 389,244.55 390,243.76 390,297.85 381,299.1" fill="#f84000" stroke="#b72f00" stroke-width="0.7"/>
<polygon points="390,243.76 391,242.98 393,241.41 395,239.84 397,238.28 399,236.73 401,235.17 403,233.61 405,232.04 407,230.47 409,228.89 409,295.21 390,297.85" fill="#f85000" stroke="#b73b00" stroke-width="0.7"/>
<polygon points="409,228.89 411,227.3 413,225.7 415,224.08 417,222.45 419,220.81 421,219.15 423,217.49 425,215.85 427,214.19 429,212.52 431,210.82 431,292.16 409,295.21" fill="#f84000" stroke="#b72f00" stroke-width="0.7"/>
<polygon points="431,210.82 433,209.17 435,207.66 436.4,206.72 436.4,291.41 431,292.16" fill="#f86000" stroke="#b74700" stroke-width="0.7"/>
<polygon points="436.4,206.72 437,206.31 439,205.15 440,204.66 440,290.91 436.4,291.41" fill="#f8a000" stroke="#b77600" stroke-width="0.7"/>
<polygon points="440,204.66 441,204.16 442.7,203.5 442.7,290.53 440,290.91" fill="#f8f000" stroke="#b7b100" stroke-width="0.7"/>
<polygon points="442.7,203.5 443,203.38 445,202.73 445.4,202.63 445.4,290.16 442.7,290.53" fill="#f0f080" stroke="#b1b15e" stroke-width="0.7"/>
<polygon points="445.4,202.63 447,202.21 449,201.8 449,289.66 445.4,290.16" fill="#70e060" stroke="#52a547" stroke-width="0.7"/>
<polygon points="449,201.8 451,201.55 453,201.39 453.2,201.38 453.2,289.08 449,289.66" fill="#00e000" stroke="#00a500" stroke-width="0.7"/>
<polygon points="453.2,201.38 455,201.32 457,201.29 457,288.55 453.2,289.08" fill="#70e8b0" stroke="#52ab82" stroke-width="0.7"/>
<polygon points="457,201.29 459,201.3 461,201.33 463,201.38 465,201.43 467,201.49 469,201.55 471,201.62 471,286.61 457,288.55" fill="#90f0e0" stroke="#6ab1a5" stroke-width="0.7"/>
<polygon points="471,201.62 473,201.69 475,201.75 477,201.81 479,201.86 481,201.93 483,202.02 484,202.07 484,284.8 471,286.61" fill="#90f0d8" stroke="#6ab19f" stroke-width="0.7"/>
<polygon points="484,202.07 485,202.13 487,202.25 489,202.39 490,202.46 490,283.97 484,284.8" fill="#80f0e0" stroke="#5eb1a5" stroke-width="0.7"/>
<polygon points="490,202.46 491,202.52 493,202.66 495,202.8 497,202.94 499,203.08 501,203.21 503,203.33 503,282.16 490,283.97" fill="#60f0e8" stroke="#47b1ab" stroke-width="0.7"/>
<polygon points="503,203.33 505,203.44 507,203.56 509,203.66 511,203.77 511,281.05 503,282.16" fill="#70f0e0" stroke="#52b1a5" stroke-width="0.7"/>
<polygon points="511,203.77 513,203.86 515,203.94 515,280.5 511,281.05" fill="#80f0e0" stroke="#5eb1a5" stroke-width="0.7"/>
<polygon points="515,203.94 517,204.03 519,204.12 521,204.18 523,204.15 523,279.39 515,280.5" fill="#90f0d8" stroke="#6ab19f" stroke-width="0.7"/>
<polygon points="523,204.15 525,204.05 527,203.89 528,203.8 528,278.69 523,279.39" fill="#60e880" stroke="#47ab5e" stroke-width="0.7"/>
<polygon points="528,203.8 529,203.71 531,203.51 533,203.32 535,203.17 537,202.99 538,202.91 538,277.3 528,278.69" fill="#10e010" stroke="#0ba50b" stroke-width="0.7"/>
<polygon points="538,202.91 539,202.83 541,202.7 543,202.7 544,202.75 544,276.47 538,277.3" fill="#18e418" stroke="#11a811" stroke-width="0.7"/>
<polygon points="544,202.75 545,202.81 546.5,202.92 546.5,276.12 544,276.47" fill="#80e8c0" stroke="#5eab8e" stroke-width="0.7"/>
<polygon points="546.5,202.92 547,202.96 548,203.06 548,275.92 546.5,276.12" fill="#a0f0e8" stroke="#76b1ab" stroke-width="0.7"/>
<polygon points="548,203.06 549,203.16 551,203.45 552,203.67 552,275.36 548,275.92" fill="#60e8e8" stroke="#47abab" stroke-width="0.7"/>
<polygon points="552,203.67 553,203.89 555,204.48 556,204.82 556,274.81 552,275.36" fill="#00f0f0" stroke="#00b1b1" stroke-width="0.7"/>
<polygon points="556,204.82 557,205.15 559,205.9 561,206.69 563,207.48 565,208.27 567,209.08 569,209.9 569,273 556,274.81" fill="#00b8f8" stroke="#0088b7" stroke-width="0.7"/>
<polygon points="569,209.9 571,210.68 573,211.36 575,211.96 576,212.24 576,272.03 569,273" fill="#00d0f0" stroke="#0099b1" stroke-width="0.7"/>
<polygon points="576,212.24 577,212.51 579,213.01 580,213.25 580,271.47 576,272.03" fill="#00f0f8" stroke="#00b1b7" stroke-width="0.7"/>
<polygon points="580,213.25 581,213.5 583,213.99 585,214.5 587,215.01 589,215.51 590,215.78 590,270.09 580,271.47" fill="#10f0f0" stroke="#0bb1b1" stroke-width="0.7"/>
<polygon points="590,215.78 591,216.04 593,216.62 595,217.26 597,217.92 597,269.11 590,270.09" fill="#00d0f0" stroke="#0099b1" stroke-width="0.7"/>
<polygon points="597,217.92 599,218.6 601,219.32 603,220.07 605,220.85 607,221.65 609,222.48 611,223.29 613,224.08 615,224.84 615,266.62 597,269.11" fill="#00b0f0" stroke="#0082b1" stroke-width="0.7"/>
<polygon points="615,224.84 617,225.58 619,226.3 621,227.03 623,227.78 625,228.56 627,229.34 627,264.95 615,266.62" fill="#00d8f0" stroke="#009fb1" stroke-width="0.7"/>
<polygon points="627,229.34 629,230.14 631,230.94 633,231.73 635,232.52 636,232.91 636,263.7 627,264.95" fill="#00b8f0" stroke="#0088b1" stroke-width="0.7"/>
<polygon points="636,232.91 637,233.3 639,234.09 641,234.86 643,235.58 645,236.27 646,236.61 646,262.31 636,263.7" fill="#0098f0" stroke="#0070b1" stroke-width="0.7"/>
<polygon points="646,236.61 647,236.96 649,237.61 651,238.19 651,261.62 646,262.31" fill="#00a8f0" stroke="#007cb1" stroke-width="0.7"/>
<polygon points="651,238.19 653,238.71 654,238.88 654,261.2 651,261.62" fill="#00c0f0" stroke="#008eb1" stroke-width="0.7"/>
<polygon points="654,238.88 655,239.04 657,239.23 657,260.78 654,261.2" fill="#00f0f0" stroke="#00b1b1" stroke-width="0.7"/>
<polygon points="657,239.23 659,239.12 660,238.98 660,260.37 657,260.78" fill="#70f0e0" stroke="#52b1a5" stroke-width="0.7"/>
<polygon points="660,238.98 661,238.83 663,238.29 664,237.92 664,259.81 660,260.37" fill="#00e020" stroke="#00a517" stroke-width="0.7"/>
<polygon points="664,237.92 665,237.55 666,237.12 666,259.53 664,259.81" fill="#e8f080" stroke="#abb15e" stroke-width="0.7"/>
<polygon points="666,237.12 667,236.69 669,235.74 670,235.23 670,258.98 666,259.53" fill="#f0f000" stroke="#b1b100" stroke-width="0.7"/>
<polygon points="670,235.23 671,234.73 673,233.68 675,232.63 677,231.55 678,231.01 678,257.87 670,258.98" fill="#f8c800" stroke="#b79400" stroke-width="0.7"/>
<polygon points="678,231.01 679,230.47 681,229.38 683,228.29 683,257.17 678,257.87" fill="#f8e000" stroke="#b7a500" stroke-width="0.7"/>
<polygon points="683,228.29 685,227.21 687,226.12 689,225.03 691,223.95 693,222.9 693,255.79 683,257.17" fill="#f0f040" stroke="#b1b12f" stroke-width="0.7"/>
<polygon points="693,222.9 695,221.87 697,220.85 697,255.23 693,255.79" fill="#f0f060" stroke="#b1b147" stroke-width="0.7"/>
<polygon points="697,220.85 699,219.84 701,218.85 703,217.87 705,216.91 707,215.94 709,214.99 711,214.07 713,213.23 715,212.45 717,211.72 718,211.37 718,252.32 697,255.23" fill="#f0f020" stroke="#b1b117" stroke-width="0.7"/>
<polygon points="718,211.37 719,211.01 721,210.33 723,209.67 723,251.62 718,252.32" fill="#f0f060" stroke="#b1b147" stroke-width="0.7"/>
<polygon points="723,209.67 725,209.01 727,208.36 727,251.07 723,251.62" fill="#e8f060" stroke="#abb147" stroke-width="0.7"/>
<polygon points="727,208.36 729,207.72 731,207.1 733,206.53 735,206 735,249.96 727,251.07" fill="#e8e880" stroke="#abab5e" stroke-width="0.7"/>
<polygon points="735,206 737,205.47 739,204.97 739,249.4 735,249.96" fill="#e8e890" stroke="#abab6a" stroke-width="0.7"/>
<polygon points="739,204.97 741,204.52 743,204.15 743,248.85 739,249.4" fill="#60e050" stroke="#47a53b" stroke-width="0.7"/>
<polygon points="743,204.15 745,203.86 747,203.61 749,203.4 751,203.22 751,247.73 743,248.85" fill="#00e000" stroke="#00a500" stroke-width="0.7"/>
<polygon points="751,203.22 753,203.07 755,202.95 755,247.18 751,247.73" fill="#20e040" stroke="#17a52f" stroke-width="0.7"/>
<polygon points="755,202.95 757,202.84 758,202.79 758,246.76 755,247.18" fill="#60e890" stroke="#47ab6a" stroke-width="0.7"/>
<polygon points="758,202.79 759,202.75 761,202.67 763,202.61 765,202.57 767,202.54 767,245.51 758,246.76" fill="#90f0e0" stroke="#6ab1a5" stroke-width="0.7"/>
<polygon points="767,202.54 769,202.51 771,202.51 773,202.56 775,202.66 777,202.78 778,202.85 778,243.99 767,245.51" fill="#80f0c0" stroke="#5eb18e" stroke-width="0.7"/>
<polygon points="778,202.85 779,202.92 780,203 780,243.71 778,243.99" fill="#90f0e0" stroke="#6ab1a5" stroke-width="0.7"/>
<polygon points="780,203 781,203.08 783,203.26 785,203.47 787,203.68 787,242.74 780,243.71" fill="#60f0e0" stroke="#47b1a5" stroke-width="0.7"/>
<polygon points="787,203.68 789,203.91 791,204.14 793,204.36 795,204.57 797,204.78 799,204.98 801,205.17 803,205.31 805,205.41 806,205.46 806,240.1 787,242.74" fill="#50f0e8" stroke="#3bb1ab" stroke-width="0.7"/>
<polygon points="806,205.46 807,205.51 809,205.59 809,239.68 806,240.1" fill="#70f0d8" stroke="#52b19f" stroke-width="0.7"/>
<polygon points="809,205.59 811,205.61 813,205.52 815,205.35 815,238.85 809,239.68" fill="#50e880" stroke="#3bab5e" stroke-width="0.7"/>
<polygon points="815,205.35 817,205.11 819,204.83 819,238.29 815,238.85" fill="#20e040" stroke="#17a52f" stroke-width="0.7"/>
<polygon points="819,204.83 821,204.55 823,204.31 825,204.11 827,203.91 829,203.74 829,236.91 819,238.29" fill="#00e000" stroke="#00a500" stroke-width="0.7"/>
<polygon points="829,203.74 831,203.6 833,203.51 835,203.47 835,236.07 829,236.91" fill="#20e040" stroke="#17a52f" stroke-width="0.7"/>
<polygon points="835,203.47 837,203.44 839,203.44 839,235.52 835,236.07" fill="#40e880" stroke="#2fab5e" stroke-width="0.7"/>
<polygon points="839,203.44 841,203.48 843,203.61 843,234.96 839,235.52" fill="#80f0d0" stroke="#5eb199" stroke-width="0.7"/>
<polygon points="843,203.61 845,203.8 847,204.04 849,204.31 850,204.45 850,233.99 843,234.96" fill="#60f0e0" stroke="#47b1a5" stroke-width="0.7"/>
<polygon points="850,204.45 851,204.59 853,204.86 855,205.13 857,205.4 859,205.66 861,205.9 863,206.08 865,206.19 866,206.24 866,231.77 850,233.99" fill="#40f0e8" stroke="#2fb1ab" stroke-width="0.7"/>
<polygon points="866,206.24 867,206.29 869,206.36 870,206.37 870,231.21 866,231.77" fill="#70f0e0" stroke="#52b1a5" stroke-width="0.7"/>
<polygon points="870,206.37 871,206.39 873,206.34 873,230.8 870,231.21" fill="#90f0d8" stroke="#6ab19f" stroke-width="0.7"/>
<polygon points="873,206.34 875,206.22 876,206.14 876,230.38 873,230.8" fill="#60f0e0" stroke="#47b1a5" stroke-width="0.7"/>
<polygon points="876,206.14 877,206.06 879,205.88 881,205.69 882,205.59 882,229.55 876,230.38" fill="#50e880" stroke="#3bab5e" stroke-width="0.7"/>
<polygon points="882,205.59 883,205.5 885,205.34 887,205.17 889,205.01 891,204.87 893,204.77 894,204.74 894,227.88 882,229.55" fill="#00e000" stroke="#00a500" stroke-width="0.7"/>
<polygon points="894,204.74 895,204.71 897,204.65 899,204.61 900,204.61 900,227.05 894,227.88" fill="#20e040" stroke="#17a52f" stroke-width="0.7"/>
<polygon points="900,204.61 901,204.6 903,204.66 903,226.63 900,227.05" fill="#50e880" stroke="#3bab5e" stroke-width="0.7"/>
<polygon points="903,204.66 905,204.76 905,226.36 903,226.63" fill="#90f0e0" stroke="#6ab1a5" stroke-width="0.7"/>
<polygon points="905,204.76 907,204.88 909,205.03 911,205.21 912,205.33 912,225.38 905,226.36" fill="#70f0e0" stroke="#52b1a5" stroke-width="0.7"/>
<polygon points="912,205.33 913,205.45 915,205.73 917,206.04 919,206.37 921,206.71 922,206.88 922,224 912,225.38" fill="#40f0e8" stroke="#2fb1ab" stroke-width="0.7"/>
<polygon points="922,206.88 923,207.05 925,207.39 927,207.71 929,208.04 931,208.38 933,208.74 934,208.93 934,222.33 922,224" fill="#3ef0ea" stroke="#2db1ad" stroke-width="0.7"/>
<polygon points="934,208.93 935,209.12 937,209.52 939,209.93 941,210.33 943,210.71 945,211.06 947,211.41 949,211.75 951,212.07 953,212.37 954,212.51 954,219.55 934,222.33" fill="#38f0f0" stroke="#29b1b1" stroke-width="0.7"/>
<polygon points="954,212.51 955,212.66 957,212.94 958.5,213.15 958.5,218.93 954,219.55" fill="#50f0e8" stroke="#3bb1ab" stroke-width="0.7"/>
<polygon points="958.5,213.15 959,213.21 961,213.45 963,213.62 965,213.73 967,213.81 968,213.84 968,217.61 958.5,218.93" fill="#60f0e0" stroke="#47b1a5" stroke-width="0.7"/>
<polygon points="968,213.84 969,213.87 971,213.87 973,213.77 975,213.61 976,213.49 976,216.5 968,217.61" fill="#40e080" stroke="#2fa55e" stroke-width="0.7"/>
<polygon points="976,213.49 977,213.38 979,213.11 981,212.89 983,212.75 985,212.7 987,212.7 989,212.74 991,212.81 993,212.87 994,212.87 994,214 976,216.5" fill="#20d020" stroke="#179917" stroke-width="0.7"/>
<text x="41" y="269.7" text-anchor="middle" class="ann" textLength="26.12" lengthAdjust="spacingAndGlyphs">3.2%</text>
<text x="41" y="279.9" text-anchor="middle" class="ann" textLength="29.75" lengthAdjust="spacingAndGlyphs">140m</text>
<line x1="41" y1="282" x2="45" y2="337.8" stroke="#868686" stroke-width="1.3"/>
<text x="107.3" y="254.7" text-anchor="middle" class="ann" textLength="26.12" lengthAdjust="spacingAndGlyphs">7.0%</text>
<text x="107.3" y="264.9" text-anchor="middle" class="ann" textLength="23.01" lengthAdjust="spacingAndGlyphs">63m</text>
<line x1="107.4" y1="267" x2="110.7" y2="322.8" stroke="#868686" stroke-width="1.3"/>
<text x="177.6" y="225.7" text-anchor="middle" class="ann" textLength="26.12" lengthAdjust="spacingAndGlyphs">7.3%</text>
<text x="177.6" y="235.9" text-anchor="middle" class="ann" textLength="29.75" lengthAdjust="spacingAndGlyphs">101m</text>
<line x1="178" y1="237.4" x2="181" y2="294.1" stroke="#868686" stroke-width="1.3"/>
<text x="382.2" y="179.8" text-anchor="middle" class="ann" textLength="32.87" lengthAdjust="spacingAndGlyphs">13.3%</text>
<text x="382.2" y="190" text-anchor="middle" class="ann" textLength="23.01" lengthAdjust="spacingAndGlyphs">50m</text>
<line x1="381.9" y1="192" x2="383.4" y2="246.6" stroke="#868686" stroke-width="1.3"/>
<text x="434.2" y="137.9" text-anchor="middle" class="ann" textLength="32.87" lengthAdjust="spacingAndGlyphs">10.0%</text>
<text x="434.2" y="148.1" text-anchor="middle" class="ann" textLength="23.01" lengthAdjust="spacingAndGlyphs">25m</text>
<line x1="434" y1="150.1" x2="434.6" y2="203.5" stroke="#868686" stroke-width="1.3"/>
<text x="550.5" y="137.9" text-anchor="middle" class="ann" textLength="29.95" lengthAdjust="spacingAndGlyphs">-7.7%</text>
<text x="550.5" y="148.1" text-anchor="middle" class="ann" textLength="23.01" lengthAdjust="spacingAndGlyphs">36m</text>
<line x1="550.4" y1="150" x2="550.4" y2="202" stroke="#868686" stroke-width="1.3"/>
<text x="602.7" y="156.1" text-anchor="middle" class="ann" textLength="29.95" lengthAdjust="spacingAndGlyphs">-9.6%</text>
<text x="602.7" y="166.3" text-anchor="middle" class="ann" textLength="29.75" lengthAdjust="spacingAndGlyphs">153m</text>
<line x1="602.8" y1="168" x2="602.8" y2="219.6" stroke="#868686" stroke-width="1.3"/>
<text x="672.5" y="169.6" text-anchor="middle" class="ann" textLength="26.12" lengthAdjust="spacingAndGlyphs">8.6%</text>
<text x="672.5" y="179.8" text-anchor="middle" class="ann" textLength="23.01" lengthAdjust="spacingAndGlyphs">61m</text>
<line x1="672.7" y1="181.5" x2="672.3" y2="233.7" stroke="#868686" stroke-width="1.3"/>
<text x="720.5" y="146.7" text-anchor="middle" class="ann" textLength="26.12" lengthAdjust="spacingAndGlyphs">4.8%</text>
<text x="720.5" y="156.9" text-anchor="middle" class="ann" textLength="23.01" lengthAdjust="spacingAndGlyphs">25m</text>
<line x1="720.9" y1="158.7" x2="720.3" y2="208.4" stroke="#868686" stroke-width="1.3"/>
<text x="856.2" y="142.5" text-anchor="middle" class="ann" textLength="29.95" lengthAdjust="spacingAndGlyphs">-4.9%</text>
<text x="856.2" y="152.7" text-anchor="middle" class="ann" textLength="29.75" lengthAdjust="spacingAndGlyphs">159m</text>
<line x1="856.2" y1="155.2" x2="854.5" y2="203.8" stroke="#868686" stroke-width="1.3"/>
<text x="942.4" y="149.2" text-anchor="middle" class="ann" textLength="29.95" lengthAdjust="spacingAndGlyphs">-5.9%</text>
<text x="942.4" y="159.4" text-anchor="middle" class="ann" textLength="29.75" lengthAdjust="spacingAndGlyphs">195m</text>
<line x1="942.4" y1="161.5" x2="940" y2="209.1" stroke="#868686" stroke-width="1.3"/>
<text x="23" y="367.8" text-anchor="middle" class="km" textLength="21.29" lengthAdjust="spacingAndGlyphs">0km</text>
<text x="100" y="357.11" text-anchor="middle" class="km" textLength="30.83" lengthAdjust="spacingAndGlyphs">0.5km</text>
<text x="173.75" y="346.87" text-anchor="middle" class="km" textLength="21.29" lengthAdjust="spacingAndGlyphs">1km</text>
<text x="245.5" y="336.91" text-anchor="middle" class="km" textLength="30.83" lengthAdjust="spacingAndGlyphs">1.5km</text>
<text x="314.8" y="327.29" text-anchor="middle" class="km" textLength="21.29" lengthAdjust="spacingAndGlyphs">2km</text>
<text x="382.9" y="317.84" text-anchor="middle" class="km" textLength="30.83" lengthAdjust="spacingAndGlyphs">2.5km</text>
<text x="448.3" y="308.76" text-anchor="middle" class="km" textLength="21.29" lengthAdjust="spacingAndGlyphs">3km</text>
<text x="512.3" y="299.87" text-anchor="middle" class="km" textLength="30.83" lengthAdjust="spacingAndGlyphs">3.5km</text>
<text x="574.4" y="291.25" text-anchor="middle" class="km" textLength="21.29" lengthAdjust="spacingAndGlyphs">4km</text>
<text x="635.2" y="282.81" text-anchor="middle" class="km" textLength="30.83" lengthAdjust="spacingAndGlyphs">4.5km</text>
<text x="693.8" y="274.68" text-anchor="middle" class="km" textLength="21.29" lengthAdjust="spacingAndGlyphs">5km</text>
<text x="751.7" y="266.64" text-anchor="middle" class="km" textLength="30.83" lengthAdjust="spacingAndGlyphs">5.5km</text>
<text x="807.4" y="258.9" text-anchor="middle" class="km" textLength="21.29" lengthAdjust="spacingAndGlyphs">6km</text>
<text x="862.3" y="251.28" text-anchor="middle" class="km" textLength="30.83" lengthAdjust="spacingAndGlyphs">6.5km</text>
<text x="915" y="243.97" text-anchor="middle" class="km" textLength="21.29" lengthAdjust="spacingAndGlyphs">7km</text>
<text x="967.2" y="236.72" text-anchor="middle" class="km" textLength="30.83" lengthAdjust="spacingAndGlyphs">7.5km</text>
<rect x="1002" y="374.8" width="12.8" height="127.7" fill="url(#lgd)"/>
<text x="995.5" y="379.8" text-anchor="end" class="lg">25%</text>
<text x="995.5" y="417.8" text-anchor="end" class="lg">10%</text>
<text x="995.5" y="443.5" text-anchor="end" class="lg">0%</text>
<text x="995.5" y="468.8" text-anchor="end" class="lg">-10%</text>
<text x="995.5" y="507.5" text-anchor="end" class="lg">-25%</text>
<g fill="#000">
<polygon points="4.8,469.4 15.8,469.4 24.2,485 32.4,469.4 43.2,469.4 24.2,503.6"/>
<path fill-rule="evenodd" d="M35.6,486.3 a16.8,17.5 0 1,0 33.6,0 a16.8,17.5 0 1,0 -33.6,0 Z M46,486.4 a7.3,8.4 0 1,0 14.6,0 a7.3,8.4 0 1,0 -14.6,0 Z"/>
<rect x="45" y="484.2" width="24.5" height="4.6"/>
<rect x="69" y="455.4" width="11.8" height="48.2"/>
<path fill-rule="evenodd" d="M80.6,486.3 a17.5,17.6 0 1,0 35,0 a17.5,17.6 0 1,0 -35,0 Z M90.8,486.3 a7.35,7.7 0 1,0 14.7,0 a7.35,7.7 0 1,0 -14.7,0 Z"/>
</g>
<polygon points="58.5,488.8 69.2,488.8 69.2,496 67.5,497.6 61.8,491.8" fill="#fff"/>
<g fill="#f50f3b">
<polygon points="107.5,469.5 118.6,469.5 126.2,485 133.6,469.5 143.6,469.5 126,503.8"/>
<circle cx="149.2" cy="461.1" r="5.9"/>
<rect x="143" y="469.5" width="11.7" height="34"/>
<path fill-rule="evenodd" d="M154.7,486.3 a16.3,17.3 0 1,0 32.6,0 a16.3,17.3 0 1,0 -32.6,0 Z M164.5,486.4 a7,8.3 0 1,0 14,0 a7,8.3 0 1,0 -14,0 Z"/>
<rect x="163.5" y="484.2" width="24" height="4.6"/>
<polygon points="185.3,469.5 196.5,469.5 202.3,487 207.2,469.5 216.5,469.5 221.3,487 227.2,469.5 238.2,469.5 226.2,503.5 216.6,503.5 211.8,488.5 207,503.5 197.4,503.5"/>
<path fill-rule="evenodd" d="M235.4,486.3 a15.8,17.3 0 1,0 31.6,0 a15.8,17.3 0 1,0 -31.6,0 Z M245,486.4 a6.8,8.3 0 1,0 13.6,0 a6.8,8.3 0 1,0 -13.6,0 Z"/>
<rect x="244" y="484.2" width="23.5" height="4.6"/>
<path d="M265,503.5 V469.5 H276.3 V474.5 Q279.5,468.6 285.6,468.6 V479.5 Q276.5,479.8 276.5,489 V503.5 Z"/>
</g>
<polygon points="176.5,488.8 187.5,488.8 187.5,496 185.8,497.6 180,491.8" fill="#fff"/>
<polygon points="258,488.8 267.3,488.8 267.3,496 265.5,497.6 260.5,491.8" fill="#fff"/>
<text x="305.8" y="477.2" font-family="Liberation Sans" font-weight="bold" font-size="9.8" fill="#222" textLength="69" lengthAdjust="spacingAndGlyphs">POWERED BY</text>
<g fill="#fc4c02">
<text x="305.6" y="503" font-family="Liberation Sans" style="font-weight:bold" font-size="27" stroke="#fc4c02" stroke-width="1.7" stroke-linejoin="round" textLength="17.3" lengthAdjust="spacingAndGlyphs">S</text>
<rect x="323.1" y="484.1" width="17.9" height="5"/>
<rect x="329" y="484.1" width="6.7" height="19.6"/>
<path fill-rule="evenodd" d="M342.1,484.1 H353.2 Q360.2,484.1 360.2,490.6 Q360.2,495.6 355.6,497.2 L361,503.7 H353.3 L348.9,497.9 V503.7 H342.1 Z M348.9,488.6 V493.5 H352.3 Q353.8,493.5 353.8,491 Q353.8,488.6 352.3,488.6 Z"/>
<polygon points="359.1,503.3 369.7,483.3 379.7,503.3 373.9,503.3 369.7,494.8 364.8,503.3"/>
<polygon points="373.6,483.9 379.7,483.9 383.3,492.1 387.9,483.9 393.9,483.9 383.3,504.2"/>
<polygon points="388.2,503.3 398.5,483.3 408.8,503.3 402.7,503.3 398.5,495.2 394.2,503.3"/>
</g>

</svg>
</body></html>
